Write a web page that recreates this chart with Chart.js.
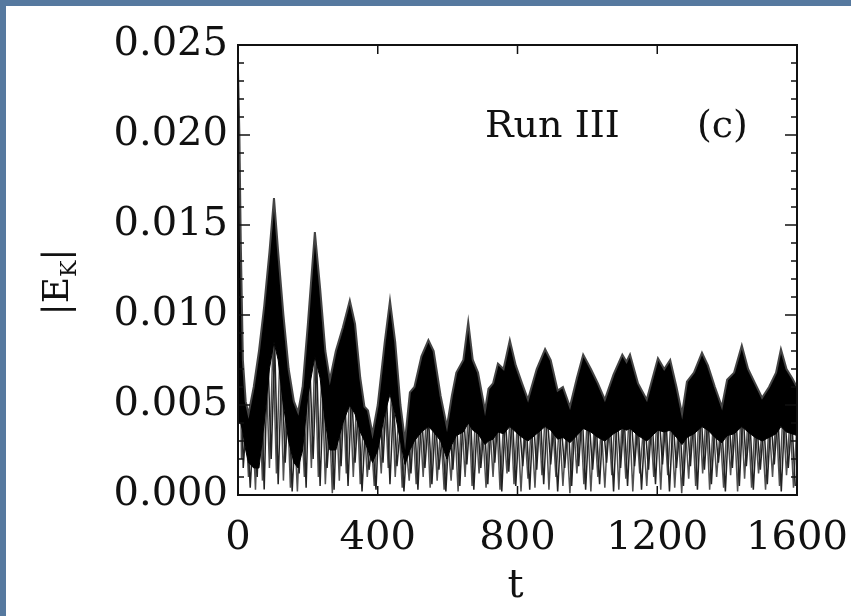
<!DOCTYPE html>
<html>
<head>
<meta charset="utf-8">
<script src="https://cdn.jsdelivr.net/npm/chart.js@4.4.1/dist/chart.umd.min.js"></script>
<style>
  html, body { margin: 0; padding: 0; }
  body { width: 851px; height: 616px; background: #56799f; overflow: hidden; position: relative; }
  .panel { position: absolute; left: 6px; top: 6px; width: 845px; height: 610px; background: #fff; }
  canvas { display: block; }
</style>
</head>
<body>
<div class="panel"><canvas id="chart" width="845" height="610"></canvas></div>
<script>
// upper edge of the dense black band, and its lower edge
const envT = [0, 4, 8, 14, 22, 30, 45, 60, 75, 90, 103, 115, 130, 145, 160, 172, 185, 200, 220, 235,
  250, 263, 280, 300, 320, 335, 350, 362, 372, 385, 400, 420, 435, 450, 465, 478, 492, 505, 525, 545,
  560, 580, 598, 612, 625, 645, 659, 672, 687, 707, 717, 730, 744, 760, 778, 795, 813, 830, 855, 879,
  895, 915, 930, 950, 970, 988, 1010, 1030, 1050, 1075, 1100, 1112, 1122, 1145, 1170, 1202, 1220, 1237, 1255, 1271,
  1285, 1305, 1328, 1345, 1365, 1385, 1400, 1420, 1442, 1460, 1480, 1500, 1520, 1540, 1554, 1570, 1586, 1600]
const envTop = [0.0236, 0.0200, 0.0140, 0.0075, 0.0052, 0.0045, 0.0060, 0.0080, 0.0105, 0.0135, 0.0165, 0.0135, 0.0100, 0.0070, 0.0052, 0.0046, 0.0060, 0.0095, 0.0146, 0.0115,
  0.0080, 0.0064, 0.0080, 0.0093, 0.0108, 0.0095, 0.0065, 0.0049, 0.0047, 0.0034, 0.0050, 0.0085, 0.0108, 0.0085, 0.0050, 0.0030, 0.0057, 0.0060, 0.0077, 0.0086,
  0.0080, 0.0055, 0.0038, 0.0055, 0.0068, 0.0075, 0.0096, 0.0075, 0.0068, 0.0047, 0.0059, 0.0062, 0.0073, 0.0070, 0.0086, 0.0072, 0.0062, 0.0053, 0.0070, 0.0081,
  0.0075, 0.0058, 0.0060, 0.0049, 0.0065, 0.0078, 0.0070, 0.0062, 0.0053, 0.0067, 0.0078, 0.0074, 0.0078, 0.0062, 0.0053, 0.0076, 0.0070, 0.0075, 0.0060, 0.0045,
  0.0063, 0.0068, 0.0079, 0.0072, 0.0060, 0.0049, 0.0064, 0.0068, 0.0083, 0.0070, 0.0062, 0.0054, 0.0060, 0.0068, 0.0081, 0.0070, 0.0065, 0.0060]
const envBottom = [0.0040, 0.0040, 0.0040, 0.0035, 0.0025, 0.0018, 0.0015, 0.0015, 0.0040, 0.0070, 0.0085, 0.0075, 0.0050, 0.0030, 0.0018, 0.0015, 0.0025, 0.0055, 0.0077, 0.0065,
  0.0040, 0.0025, 0.0025, 0.0040, 0.0050, 0.0045, 0.0035, 0.0030, 0.0025, 0.0018, 0.0025, 0.0045, 0.0056, 0.0045, 0.0030, 0.0017, 0.0025, 0.0030, 0.0035, 0.0038,
  0.0035, 0.0030, 0.0020, 0.0028, 0.0033, 0.0035, 0.0040, 0.0036, 0.0034, 0.0028, 0.0030, 0.0031, 0.0035, 0.0034, 0.0038, 0.0035, 0.0032, 0.0030, 0.0034, 0.0038,
  0.0036, 0.0031, 0.0032, 0.0029, 0.0033, 0.0037, 0.0035, 0.0032, 0.0030, 0.0034, 0.0037, 0.0036, 0.0037, 0.0033, 0.0030, 0.0036, 0.0035, 0.0036, 0.0032, 0.0028,
  0.0032, 0.0034, 0.0038, 0.0036, 0.0032, 0.0029, 0.0033, 0.0034, 0.0038, 0.0035, 0.0032, 0.0030, 0.0032, 0.0034, 0.0038, 0.0035, 0.0034, 0.0033]

// fast oscillation under the band: values at t = 0, 10, 20 ... and at t = 5, 15, 25 ...
const zigStep = 10
const zigValues = [0.0200, 0.0020, 0.0050, 0.0010, 0.0050, 0.0003, 0.0060, 0.0008, 0.0075, 0.0015,
  0.0085, 0.0012, 0.0080, 0.0008, 0.0060, 0.0004, 0.0045, 0.0002, 0.0050, 0.0010,
  0.0070, 0.0015, 0.0078, 0.0010, 0.0070, 0.0006, 0.0050, 0.0001, 0.0055, 0.0008,
  0.0062, 0.0012, 0.0060, 0.0010, 0.0055, 0.0006, 0.0045, 0.0010, 0.0035, 0.0005,
  0.0045, 0.0012, 0.0058, 0.0015, 0.0060, 0.0010, 0.0045, 0.0004, 0.0030, 0.0008,
  0.0042, 0.0006, 0.0045, 0.0010, 0.0048, 0.0004, 0.0045, 0.0008, 0.0038, 0.0003,
  0.0032, 0.0008, 0.0042, 0.0002, 0.0045, 0.0010, 0.0050, 0.0005, 0.0045, 0.0012,
  0.0038, 0.0004, 0.0042, 0.0010, 0.0045, 0.0003, 0.0040, 0.0012, 0.0048, 0.0006,
  0.0042, 0.0002, 0.0038, 0.0009, 0.0040, 0.0004, 0.0046, 0.0011, 0.0048, 0.0003,
  0.0042, 0.0010, 0.0040, 0.0005, 0.0036, 0.0001, 0.0042, 0.0012, 0.0046, 0.0006,
  0.0044, 0.0002, 0.0040, 0.0010, 0.0038, 0.0004, 0.0042, 0.0011, 0.0047, 0.0003,
  0.0045, 0.0009, 0.0046, 0.0002, 0.0040, 0.0012, 0.0036, 0.0005, 0.0042, 0.0010,
  0.0046, 0.0003, 0.0044, 0.0011, 0.0045, 0.0004, 0.0038, 0.0001, 0.0040, 0.0009,
  0.0045, 0.0005, 0.0048, 0.0012, 0.0046, 0.0003, 0.0040, 0.0010, 0.0036, 0.0004,
  0.0042, 0.0011, 0.0045, 0.0002, 0.0048, 0.0009, 0.0044, 0.0004, 0.0040, 0.0012,
  0.0037, 0.0003, 0.0041, 0.0010, 0.0045, 0.0005, 0.0047, 0.0011, 0.0043, 0.0004,
  0.0040]
const zigOffset = 5
const zigValues2 = [0.0120, 0.0015, 0.0045, 0.0004, 0.0040, 0.0010, 0.0065, 0.0003, 0.0080, 0.0020,
  0.0084, 0.0006, 0.0072, 0.0018, 0.0055, 0.0002, 0.0040, 0.0012, 0.0060, 0.0004,
  0.0075, 0.0020, 0.0076, 0.0005, 0.0062, 0.0015, 0.0045, 0.0003, 0.0058, 0.0016,
  0.0060, 0.0005, 0.0058, 0.0018, 0.0050, 0.0002, 0.0040, 0.0014, 0.0030, 0.0003,
  0.0050, 0.0018, 0.0056, 0.0006, 0.0052, 0.0016, 0.0038, 0.0002, 0.0035, 0.0012,
  0.0044, 0.0003, 0.0046, 0.0015, 0.0044, 0.0006, 0.0042, 0.0014, 0.0034, 0.0002,
  0.0040, 0.0014, 0.0044, 0.0005, 0.0047, 0.0017, 0.0046, 0.0003, 0.0042, 0.0015,
  0.0040, 0.0006, 0.0044, 0.0018, 0.0046, 0.0002, 0.0043, 0.0013, 0.0046, 0.0005,
  0.0041, 0.0016, 0.0040, 0.0003, 0.0044, 0.0014, 0.0047, 0.0006, 0.0045, 0.0017,
  0.0041, 0.0002, 0.0039, 0.0015, 0.0040, 0.0005, 0.0045, 0.0016, 0.0047, 0.0003,
  0.0042, 0.0014, 0.0040, 0.0006, 0.0041, 0.0018, 0.0045, 0.0002, 0.0046, 0.0015,
  0.0044, 0.0005, 0.0045, 0.0016, 0.0041, 0.0003, 0.0039, 0.0014, 0.0044, 0.0006,
  0.0046, 0.0017, 0.0043, 0.0002, 0.0042, 0.0015, 0.0038, 0.0005, 0.0043, 0.0016,
  0.0046, 0.0003, 0.0047, 0.0014, 0.0044, 0.0006, 0.0040, 0.0018, 0.0038, 0.0002,
  0.0043, 0.0015, 0.0046, 0.0005, 0.0047, 0.0016, 0.0042, 0.0003, 0.0039, 0.0014,
  0.0040, 0.0006, 0.0043, 0.0017, 0.0046, 0.0002, 0.0045, 0.0015, 0.0042, 0.0005]

const xTicks = [0, 400, 800, 1200, 1600]
const yTicks = [0, 0.005, 0.010, 0.015, 0.020, 0.025]

const font = '"DejaVu Serif", serif'
const topPts = envT.map((t, i) => ({x: t, y: envTop[i]}))
const bottomPts = envT.map((t, i) => ({x: t, y: envBottom[i]}))
const zigPts = zigValues.map((v, i) => ({x: i * zigStep, y: v}))
const zigPts2 = zigValues2.map((v, i) => ({x: zigOffset + i * zigStep, y: v}))

const frame = {
  id: 'frame',
  afterDatasetsDraw(chart) {
    const {ctx, chartArea: a, scales: {x, y}} = chart
    ctx.save()
    ctx.strokeStyle = '#111'
    ctx.lineWidth = 2
    ctx.strokeRect(a.left, a.top, a.right - a.left, a.bottom - a.top)
    ctx.lineWidth = 1.5
    ctx.beginPath()
    for (let i = 0; i <= 25; i++) {
      const py = y.getPixelForValue(i / 1000)
      const len = i % 5 === 0 ? 12 : 6
      ctx.moveTo(a.left, py); ctx.lineTo(a.left + len, py)
      ctx.moveTo(a.right, py); ctx.lineTo(a.right - len, py)
    }
    xTicks.forEach(v => {
      const px = x.getPixelForValue(v)
      ctx.moveTo(px, a.top); ctx.lineTo(px, a.top + 9)
      ctx.moveTo(px, a.bottom); ctx.lineTo(px, a.bottom - 9)
    })
    ctx.stroke()

    ctx.fillStyle = '#111'
    ctx.textBaseline = 'alphabetic'
    ctx.font = '38px ' + font
    ctx.textAlign = 'left'
    ctx.fillText('Run III', a.left + 247, a.top + 92)
    ctx.fillText('(c)', a.left + 459, a.top + 92)

    // t
    ctx.textAlign = 'center'
    ctx.font = '40px ' + font
    ctx.fillText('t', (a.left + a.right) / 2 - 2, a.bottom + 102)

    // |E_K| rotated
    ctx.translate(62, 276)
    ctx.rotate(-Math.PI / 2)
    ctx.textAlign = 'left'
    ctx.font = '36px ' + font
    const w1 = ctx.measureText('|E').width
    ctx.font = '22px ' + font
    const w2 = ctx.measureText('K').width
    ctx.font = '36px ' + font
    const w3 = ctx.measureText('|').width
    let cx = -(w1 + w2 + w3) / 2
    ctx.fillText('|E', cx, 0)
    cx += w1
    ctx.font = '22px ' + font
    ctx.fillText('K', cx, 8)
    cx += w2
    ctx.font = '36px ' + font
    ctx.fillText('|', cx, 0)
    ctx.restore()
  }
}

new Chart(document.getElementById('chart'), {
  type: 'line',
  data: {
    datasets: [
      {data: topPts, borderColor: '#444', borderWidth: 2, backgroundColor: '#000', fill: 1, pointRadius: 0, tension: 0},
      {data: bottomPts, borderColor: '#000', borderWidth: 1, pointRadius: 0, fill: false, tension: 0},
      {data: zigPts2, borderColor: '#222', borderWidth: 1.5, pointRadius: 0, fill: false, tension: 0},
      {data: zigPts, borderColor: '#505050', borderWidth: 1.5, pointRadius: 0, fill: false, tension: 0}
    ]
  },
  options: {
    responsive: false,
    devicePixelRatio: 1,
    animation: false,
    layout: {padding: {top: 39, right: 54, left: 0, bottom: 0}},
    plugins: {legend: {display: false}, tooltip: {enabled: false}},
    scales: {
      x: {
        type: 'linear', min: 0, max: 1600,
        afterBuildTicks: s => { s.ticks = xTicks.map(v => ({value: v})) },
        afterFit: s => { s.height = 121; s.paddingLeft = 0; s.paddingRight = 0 },
        grid: {display: false, drawTicks: false},
        border: {display: false},
        ticks: {color: '#111', font: {family: font, size: 40}, padding: 20, maxRotation: 0, autoSkip: false, callback: v => String(v)}
      },
      y: {
        min: 0, max: 0.025,
        afterBuildTicks: s => { s.ticks = yTicks.map(v => ({value: v})) },
        afterFit: s => { s.width = 232; s.paddingTop = 0; s.paddingBottom = 0 },
        grid: {display: false, drawTicks: false},
        border: {display: false},
        ticks: {color: '#111', font: {family: font, size: 40}, padding: 10, callback: v => v.toFixed(3)}
      }
    }
  },
  plugins: [frame]
})
</script>
</body>
</html>
